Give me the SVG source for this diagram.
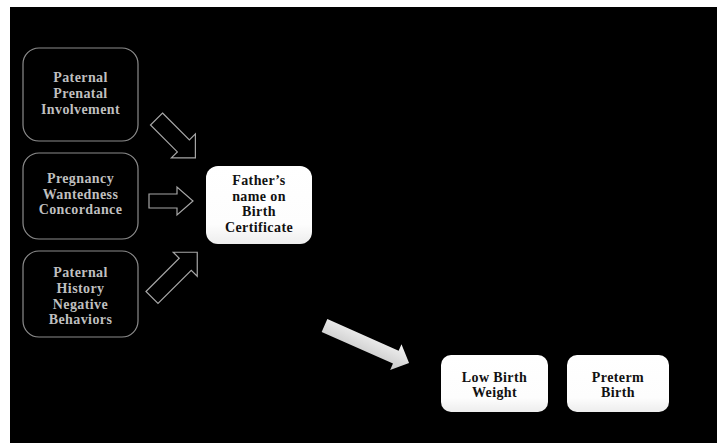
<svg xmlns="http://www.w3.org/2000/svg" width="717" height="443" viewBox="0 0 717 443">
<defs>
<style>
.src rect{fill:#000;stroke:#8c8c8c;stroke-width:1.2}
.src text{fill:#bfbfbf}
text{font-family:"Liberation Serif","Times New Roman",serif;font-weight:bold;font-size:14px;text-anchor:middle;letter-spacing:0.4px}
.dst text{fill:#111}
.hollow{fill:none;stroke:#a6a6a6;stroke-width:1.2;stroke-linejoin:miter}
</style>
<linearGradient id="wg" x1="0" y1="0" x2="0" y2="1">
<stop offset="0" stop-color="#ffffff"/>
<stop offset="0.75" stop-color="#fdfdfd"/>
<stop offset="1" stop-color="#ededed"/>
</linearGradient>
<linearGradient id="ag" x1="0" y1="0" x2="0" y2="1">
<stop offset="0" stop-color="#f4f4f4"/>
<stop offset="1" stop-color="#c8c8c8"/>
</linearGradient>
</defs>
<rect x="0" y="0" width="717" height="443" fill="#fff"/>
<rect x="10" y="7" width="707" height="436" fill="#000"/>

<g id="n1" class="src">
<rect x="23" y="48" width="115" height="93" rx="16"/>
<text x="80.5" y="82">Paternal</text>
<text x="80.5" y="98">Prenatal</text>
<text x="80.5" y="114">Involvement</text>
</g>
<g id="n2" class="src">
<rect x="23" y="153" width="115" height="86" rx="16"/>
<text x="80.5" y="183">Pregnancy</text>
<text x="80.5" y="199">Wantedness</text>
<text x="80.5" y="214">Concordance</text>
</g>
<g id="n3" class="src">
<rect x="23" y="251" width="115" height="86" rx="16"/>
<text x="80.5" y="277">Paternal</text>
<text x="80.5" y="293">History</text>
<text x="80.5" y="309">Negative</text>
<text x="80.5" y="324">Behaviors</text>
</g>

<g id="n4" class="dst">
<rect x="206" y="166" width="106" height="78" rx="12" fill="url(#wg)"/>
<text x="259" y="185">Father’s</text>
<text x="259" y="201">name on</text>
<text x="259" y="216">Birth</text>
<text x="259" y="232">Certificate</text>
</g>
<g id="n5" class="dst">
<rect x="441" y="355" width="107" height="57" rx="10" fill="url(#wg)"/>
<text x="494.5" y="382">Low Birth</text>
<text x="494.5" y="397">Weight</text>
</g>
<g id="n6" class="dst">
<rect x="567" y="355" width="102" height="57" rx="10" fill="url(#wg)"/>
<text x="618" y="382">Preterm</text>
<text x="618" y="397">Birth</text>
</g>

<g id="connectors">
<polygon class="hollow" transform="translate(156.5,119) rotate(45)" points="0,-8.5 38,-8.5 38,-17 55,0 38,17 38,8.5 0,8.5"/>
<polygon class="hollow" transform="translate(149,201)" points="0,-7 28,-7 28,-14 44,0 28,14 28,7 0,7"/>
<polygon class="hollow" transform="translate(152,297.5) rotate(-45)" points="0,-8.5 47,-8.5 47,-17 64,0 47,17 47,8.5 0,8.5"/>
<polygon transform="translate(324.5,325.5) rotate(23.9)" fill="url(#ag)" points="0,-7 78,-7 78,-14 92.5,0 78,14 78,7 0,7"/>
</g>
</svg>
